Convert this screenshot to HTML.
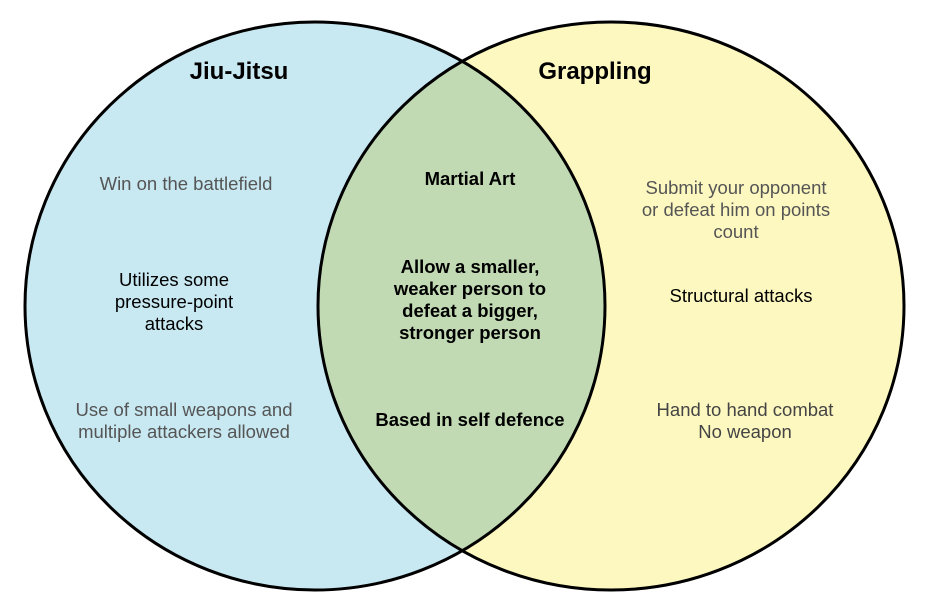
<!DOCTYPE html>
<html><head><meta charset="utf-8"><style>
html,body{margin:0;padding:0;background:#fff;width:926px;height:594px;overflow:hidden}
svg text{font-family:"Liberation Sans",Arial,sans-serif;}
</style></head><body>
<svg width="926" height="594" viewBox="0 0 926 594" xmlns="http://www.w3.org/2000/svg">
<defs>
<clipPath id="cl"><ellipse cx="315" cy="306" rx="290" ry="284"/></clipPath>
</defs>
<ellipse cx="315" cy="306" rx="290" ry="284" fill="#c8e8f2"/>
<ellipse cx="611" cy="306" rx="293" ry="284" fill="#fdf8c0"/>
<ellipse cx="611" cy="306" rx="293" ry="284" fill="#c2dab4" clip-path="url(#cl)"/>
<ellipse cx="315" cy="306" rx="290" ry="284" fill="none" stroke="#000" stroke-width="3"/>
<ellipse cx="611" cy="306" rx="293" ry="284" fill="none" stroke="#000" stroke-width="3"/>
<g text-anchor="middle" font-size="18.5">
<text x="239" y="79" font-size="24" font-weight="bold">Jiu-Jitsu</text>
<text x="595" y="79" font-size="24" font-weight="bold">Grappling</text>
<text x="186" y="190" fill="#555">Win on the battlefield</text>
<text x="174" y="286">Utilizes some</text>
<text x="174" y="308">pressure-point</text>
<text x="174" y="330">attacks</text>
<text x="184" y="416" fill="#555">Use of small weapons and</text>
<text x="184" y="438" fill="#555">multiple attackers allowed</text>
<text x="470" y="185" font-weight="bold">Martial Art</text>
<text x="470" y="273" font-weight="bold">Allow a smaller,</text>
<text x="470" y="295" font-weight="bold">weaker person to</text>
<text x="470" y="317" font-weight="bold">defeat a bigger,</text>
<text x="470" y="339" font-weight="bold">stronger person</text>
<text x="470" y="426" font-weight="bold">Based in self defence</text>
<text x="736" y="194" fill="#555">Submit your opponent</text>
<text x="736" y="216" fill="#555">or defeat him on points</text>
<text x="736" y="238" fill="#555">count</text>
<text x="741" y="302">Structural attacks</text>
<text x="745" y="416" fill="#444">Hand to hand combat</text>
<text x="745" y="438" fill="#444">No weapon</text>
</g>
</svg>
</body></html>
